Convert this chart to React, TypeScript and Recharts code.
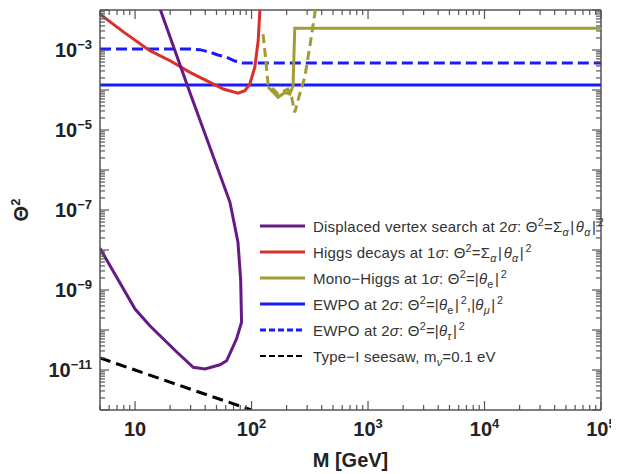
import React from 'react'
import { LineChart, Line, XAxis, YAxis, Legend, ReferenceLine } from 'recharts'

// values: M in GeV, Theta^2
const displacedM = [14.3, 16.4, 29.6, 65.2, 76.4, 80.6, 82.1, 74.3, 61.1, 53.5, 39.8, 31.6, 22.8, 13.4, 10, 5]
const displacedT = [3.2e-2, 1.06e-2, 8.5e-5, 1.58e-7, 1.58e-8, 1.88e-9, 1.58e-10, 5.96e-11, 1.7e-11, 1.35e-11, 1.06e-11, 1.17e-11, 2.82e-11, 1.28e-10, 3.35e-10, 1.1e-8]

const higgsM = [5, 8, 13.4, 20, 29.6, 44, 57.2, 76.7, 87.7, 96.7, 106.7, 114, 117.8, 120]
const higgsT = [7.9e-3, 2.8e-3, 9.6e-4, 5.4e-4, 2.76e-4, 1.55e-4, 1.06e-4, 8.3e-5, 9.6e-5, 1.41e-4, 3.7e-4, 1.7e-3, 9.5e-3, 3.3e-2]

const monoM = [138.7, 169, 192.9, 212.9, 227, 235, 1e5]
const monoT = [1.19e-4, 6.6e-5, 8.7e-5, 7.9e-5, 1.26e-4, 3.5e-3, 3.5e-3]

const monoDashM = [125.6, 130, 138.7, 169, 204.6, 221, 234.9, 259.2, 286.3, 316, 348.6, 363]
const monoDashT = [2.5e-3, 9.6e-4, 1.41e-4, 7.9e-5, 1.06e-4, 6.6e-5, 2.76e-5, 7.9e-5, 2.1e-4, 1.19e-3, 7.9e-3, 1.9e-2]

const ewpoM = [5, 1e5]
const ewpoT = [1.33e-4, 1.33e-4]

const ewpoTauM = [5, 29.6, 36, 44, 51.4, 61.1, 72, 84.7, 1e5]
const ewpoTauT = [1.06e-3, 1.06e-3, 1.02e-3, 8.8e-4, 7.5e-4, 6.6e-4, 5.3e-4, 4.7e-4, 4.7e-4]

const seesawM = [5, 10, 30, 100]
const seesawT = [2e-11, 1e-11, 3.3e-12, 1e-12]

// tick labels
const xMajor = [10, 100, 1000, 10000, 100000]
const xExp = ['', '2', '3', '4', '5']
const yLabelled = [1e-3, 1e-5, 1e-7, 1e-9, 1e-11]
const yExp = ['−3', '−5', '−7', '−9', '−11']

const zip = (ms: number[], ts: number[]) => ms.map((m, i) => ({ m, v: ts[i] }))

const PURPLE = '#661a85'
const RED = '#d8302a'
const OLIVE = '#a19d35'
const BLUE = '#1a1aff'
const FRAME = '#555'
const FONT = 'Liberation Sans, Arial, sans-serif'

const PLOT = { left: 92, right: 593, top: 2, bottom: 402 }

const xTicks: number[] = [5, 6, 7, 8, 9]
for (let e = 1; e <= 4; e++) for (let k = 1; k <= 9; k++) xTicks.push(k * 10 ** e)
xTicks.push(1e5)

const yTicks: number[] = []
for (let e = -12; e <= -3; e++) for (let k = 1; k <= 9; k++) yTicks.push(k * 10 ** e)
yTicks.push(1e-2)

const isMajor = (v: number) => Math.abs(Math.log10(v) - Math.round(Math.log10(v))) < 1e-6

const XTick = (props: any) => {
  const { x, payload } = props
  const v = payload.value
  const major = isMajor(v)
  const len = major ? 9 : 5
  const idx = xMajor.findIndex((m) => Math.abs(m - v) / m < 1e-6)
  return (
    <g>
      <line x1={x} x2={x} y1={PLOT.bottom} y2={PLOT.bottom - len} stroke={FRAME} strokeWidth={1.2} />
      <line x1={x} x2={x} y1={PLOT.top} y2={PLOT.top + len} stroke={FRAME} strokeWidth={1.2} />
      {idx >= 0 && (
        <text x={x} y={428} textAnchor="middle" fontFamily={FONT} fontWeight="bold" fontSize={20} fill="#222">
          10
          {xExp[idx] && (
            <tspan dy={-8} fontSize={13}>
              {xExp[idx]}
            </tspan>
          )}
        </text>
      )}
    </g>
  )
}

const YTick = (props: any) => {
  const { y, payload } = props
  const v = payload.value
  const major = isMajor(v)
  const len = major ? 9 : 5
  const idx = yLabelled.findIndex((m) => Math.abs(m - v) / m < 1e-6)
  return (
    <g>
      <line x1={PLOT.left} x2={PLOT.left + len} y1={y} y2={y} stroke={FRAME} strokeWidth={1.2} />
      <line x1={PLOT.right} x2={PLOT.right - len} y1={y} y2={y} stroke={FRAME} strokeWidth={1.2} />
      {idx >= 0 && (
        <text x={84} y={y + 7} textAnchor="end" fontFamily={FONT} fontWeight="bold" fontSize={20} fill="#222">
          10
          <tspan dy={-8} fontSize={13}>
            {yExp[idx]}
          </tspan>
        </text>
      )}
    </g>
  )
}

const YLabel = () => (
  <text
    x={20}
    y={(PLOT.top + PLOT.bottom) / 2}
    transform={`rotate(-90, 20, ${(PLOT.top + PLOT.bottom) / 2})`}
    textAnchor="middle"
    fontFamily={FONT}
    fontWeight="bold"
    fontSize={20}
    fill="#222"
  >
    Θ<tspan dy={-8} fontSize={13}>2</tspan>
  </text>
)

const XLabel = () => (
  <text
    x={(PLOT.left + PLOT.right) / 2}
    y={459}
    textAnchor="middle"
    fontFamily={FONT}
    fontWeight="bold"
    fontSize={20}
    fill="#222"
  >
    M [GeV]
  </text>
)

const sup = { fontSize: '0.72em', verticalAlign: 'super', lineHeight: 0 } as const
const sub = { fontSize: '0.72em', verticalAlign: 'sub', lineHeight: 0 } as const
const bar = { margin: '0 1.5px' } as const

const legendItems = [
  {
    color: PURPLE,
    dash: undefined,
    label: (
      <>
        Displaced vertex search at 2<i>σ</i>: Θ<span style={sup}>2</span>=Σ<span style={sub}><i>α</i></span>
        <span style={bar}>|</span><i>θ</i><span style={sub}><i>α</i></span><span style={bar}>|</span>
        <span style={sup}>2</span>
      </>
    ),
  },
  {
    color: RED,
    dash: undefined,
    label: (
      <>
        Higgs decays at 1<i>σ</i>: Θ<span style={sup}>2</span>=Σ<span style={sub}><i>α</i></span>
        <span style={bar}>|</span><i>θ</i><span style={sub}><i>α</i></span><span style={bar}>|</span>
        <span style={sup}>2</span>
      </>
    ),
  },
  {
    color: OLIVE,
    dash: undefined,
    label: (
      <>
        Mono−Higgs at 1<i>σ</i>: Θ<span style={sup}>2</span>=|<i>θ</i><span style={sub}>e</span>
        <span style={bar}>|</span><span style={sup}>2</span>
      </>
    ),
  },
  {
    color: BLUE,
    dash: undefined,
    label: (
      <>
        EWPO at 2<i>σ</i>: Θ<span style={sup}>2</span>=|<i>θ</i><span style={sub}>e</span>
        <span style={bar}>|</span><span style={sup}>2</span>,|<i>θ</i><span style={sub}><i>μ</i></span>
        <span style={bar}>|</span><span style={sup}>2</span>
      </>
    ),
  },
  {
    color: BLUE,
    dash: '6 3',
    label: (
      <>
        EWPO at 2<i>σ</i>: Θ<span style={sup}>2</span>=|<i>θ</i><span style={sub}><i>τ</i></span>
        <span style={bar}>|</span><span style={sup}>2</span>
      </>
    ),
  },
  {
    color: '#000',
    dash: '6 3',
    label: (
      <>
        Type−I seesaw, m<span style={sub}><i>ν</i></span>=0.1 eV
      </>
    ),
  },
]

const LegendBox = () => (
  <div style={{ fontFamily: FONT, fontSize: 15, letterSpacing: 0.2, color: '#333' }}>
    {legendItems.map((it, i) => (
      <div key={i} style={{ display: 'flex', alignItems: 'center', height: 26, whiteSpace: 'nowrap' }}>
        <svg width={53} height={10} style={{ flex: 'none' }}>
          <line
            x1={0}
            x2={45}
            y1={5}
            y2={5}
            stroke={it.color}
            strokeWidth={it.color === '#000' ? 2 : 3}
            strokeDasharray={it.dash}
          />
        </svg>
        <span>{it.label}</span>
      </div>
    ))}
  </div>
)

export default function App() {
  return (
    <LineChart width={611} height={466} margin={{ top: 2, right: 18, left: 0, bottom: 0 }}>
      <XAxis
        type="number"
        dataKey="m"
        scale="log"
        domain={[5, 1e5]}
        allowDataOverflow
        ticks={xTicks}
        interval={0}
        tick={<XTick />}
        tickLine={false}
        axisLine={{ stroke: FRAME, strokeWidth: 1.5 }}
        height={64}
        label={<XLabel />}
      />
      <YAxis
        type="number"
        dataKey="v"
        scale="log"
        domain={[1e-12, 1e-2]}
        allowDataOverflow
        ticks={yTicks}
        interval={0}
        tick={<YTick />}
        tickLine={false}
        axisLine={{ stroke: FRAME, strokeWidth: 1.5 }}
        width={92}
        label={<YLabel />}
      />
      <ReferenceLine y={1e-2} stroke={FRAME} strokeWidth={1.5} />
      <ReferenceLine x={1e5} stroke={FRAME} strokeWidth={1.5} />
      <Legend
        layout="vertical"
        align="center"
        verticalAlign="middle"
        content={<LegendBox />}
        wrapperStyle={{ left: 252, top: 205, width: 'auto' }}
      />
      <Line data={zip(seesawM, seesawT)} dataKey="v" stroke="#000" strokeWidth={3} strokeDasharray="11 6" dot={false} type="linear" isAnimationActive={false} />
      <Line data={zip(ewpoM, ewpoT)} dataKey="v" stroke={BLUE} strokeWidth={3} dot={false} type="linear" isAnimationActive={false} />
      <Line data={zip(ewpoTauM, ewpoTauT)} dataKey="v" stroke={BLUE} strokeWidth={3} strokeDasharray="11 5" dot={false} type="linear" isAnimationActive={false} />
      <Line data={zip(monoDashM, monoDashT)} dataKey="v" stroke={OLIVE} strokeWidth={3} strokeDasharray="9 5" dot={false} type="linear" isAnimationActive={false} />
      <Line data={zip(monoM, monoT)} dataKey="v" stroke={OLIVE} strokeWidth={3} dot={false} type="linear" isAnimationActive={false} />
      <Line data={zip(higgsM, higgsT)} dataKey="v" stroke={RED} strokeWidth={3} dot={false} type="linear" isAnimationActive={false} />
      <Line data={zip(displacedM, displacedT)} dataKey="v" stroke={PURPLE} strokeWidth={3} dot={false} type="linear" isAnimationActive={false} />
    </LineChart>
  )
}
